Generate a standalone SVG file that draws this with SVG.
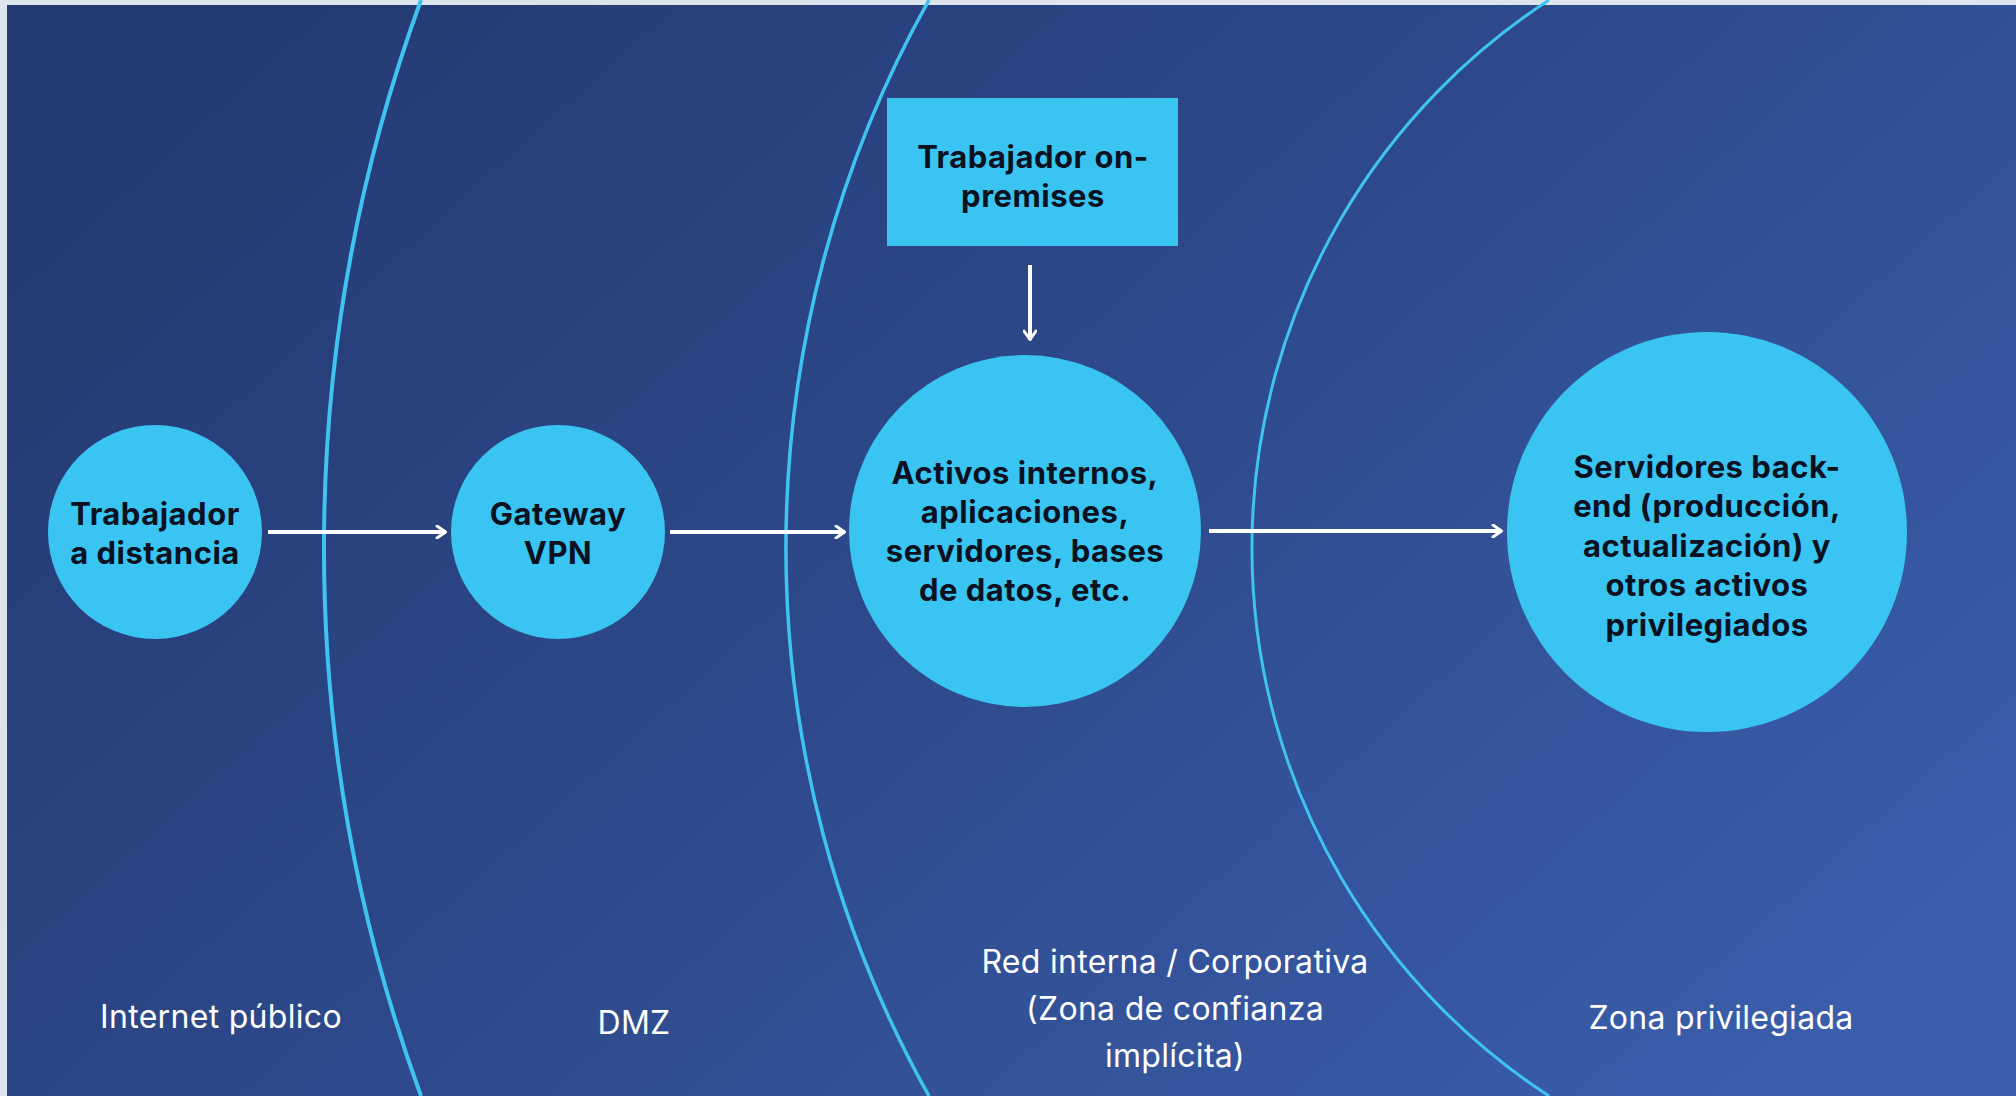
<svg xmlns="http://www.w3.org/2000/svg" width="2016" height="1096" viewBox="0 0 2016 1096">
  <defs>
    <linearGradient id="bg" x1="0" y1="0.2" x2="1" y2="0.8">
      <stop offset="0" stop-color="#243a72"/>
      <stop offset="0.5" stop-color="#2e4a8c"/>
      <stop offset="1" stop-color="#3a5eab"/>
    </linearGradient>
    <marker id="arr" viewBox="0 0 12 14" refX="11" refY="7" markerWidth="12" markerHeight="14" markerUnits="userSpaceOnUse" orient="auto">
      <path d="M2,1 L10.5,7 L2,13" fill="none" stroke="#ffffff" stroke-width="3" stroke-linecap="round" stroke-linejoin="round"/>
    </marker>
    <style>
      .zone { fill: none; stroke: #3fc4f1; }
      .node { fill: #39c4f2; }
      .nt { font-family: Inter, "Liberation Sans", sans-serif; font-weight: 700; font-size: 31px; letter-spacing: 0.5px; fill: #0b1120; text-anchor: middle; }
      .lbl { font-family: Inter, "Liberation Sans", sans-serif; font-weight: 400; font-size: 32px; letter-spacing: 0.3px; fill: #ffffff; text-anchor: middle; }
      .conn { stroke: #ffffff; stroke-width: 4; fill: none; marker-end: url(#arr); }
    </style>
  </defs>

  <rect x="0" y="0" width="2016" height="1096" fill="#dde4ec"/>
  <rect x="7" y="5" width="2009" height="1091" fill="url(#bg)"/>

  <g id="zones">
    <path class="zone" stroke-width="4" d="M421,0 A1596,1596 0 0 0 421,1096"/>
    <path class="zone" stroke-width="3.5" d="M929,0 A1121,1121 0 0 0 929,1096"/>
    <path class="zone" stroke-width="3" d="M1549,0 A654,654 0 0 0 1549,1096"/>
  </g>

  <g id="zone-labels">
    <text class="lbl" x="221" y="1028">Internet público</text>
    <text class="lbl" x="634" y="1034">DMZ</text>
    <text class="lbl" x="1175" y="973">Red interna / Corporativa</text>
    <text class="lbl" x="1175" y="1020">(Zona de confianza</text>
    <text class="lbl" x="1175" y="1067">implícita)</text>
    <text class="lbl" x="1721" y="1029">Zona privilegiada</text>
  </g>

  <g id="connectors">
    <line class="conn" x1="268" y1="532" x2="446" y2="532"/>
    <line class="conn" x1="670" y1="532" x2="845" y2="532"/>
    <line class="conn" x1="1209" y1="531" x2="1502" y2="531"/>
    <line class="conn" x1="1030" y1="265" x2="1030" y2="340"/>
  </g>

  <g id="node-remote">
    <circle class="node" cx="155" cy="532" r="107"/>
    <text class="nt" x="155" y="525">Trabajador</text>
    <text class="nt" x="155" y="564">a distancia</text>
  </g>

  <g id="node-vpn">
    <circle class="node" cx="558" cy="532" r="107"/>
    <text class="nt" x="558" y="525">Gateway</text>
    <text class="nt" x="558" y="564">VPN</text>
  </g>

  <g id="node-onprem">
    <rect class="node" x="887" y="98" width="291" height="148"/>
    <text class="nt" x="1033" y="168">Trabajador on-</text>
    <text class="nt" x="1033" y="207">premises</text>
  </g>

  <g id="node-internal">
    <circle class="node" cx="1025" cy="531" r="176"/>
    <text class="nt" x="1025" y="484">Activos internos,</text>
    <text class="nt" x="1025" y="523">aplicaciones,</text>
    <text class="nt" x="1025" y="562">servidores, bases</text>
    <text class="nt" x="1025" y="601">de datos, etc.</text>
  </g>

  <g id="node-privileged">
    <circle class="node" cx="1707" cy="532" r="200"/>
    <text class="nt" x="1707" y="478">Servidores back-</text>
    <text class="nt" x="1707" y="517">end (producción,</text>
    <text class="nt" x="1707" y="557">actualización) y</text>
    <text class="nt" x="1707" y="596">otros activos</text>
    <text class="nt" x="1707" y="636">privilegiados</text>
  </g>
</svg>
